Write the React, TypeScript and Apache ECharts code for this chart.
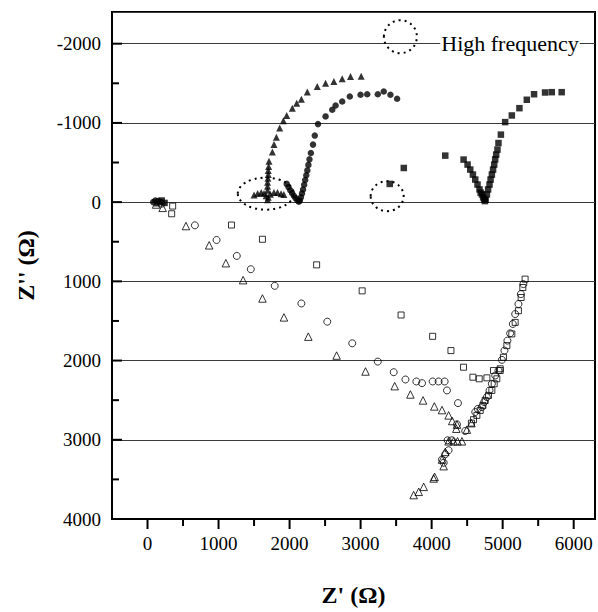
import React, { useEffect, useRef } from 'react';
import * as echarts from 'echarts';

// ---- axis ticks ----
const xMajorTicks = [0, 1000, 2000, 3000, 4000, 5000, 6000];
const xMinorTicks = [500, 1500, 2500, 3500, 4500, 5500];
const yMajorTicks = [-2000, -1000, 0, 1000, 2000, 3000, 4000];
const yMinorTicks = [-1500, -500, 500, 1500, 2500, 3500];

const X_MIN = -500;
const X_MAX = 6300;
const Y_MIN = -2400;
const Y_MAX = 4000;

// ---- filled symbols (upper half) ----
const filledTriangles = [
  [130, 10], [170, -10],
  [1500, -90], [1550, -110], [1600, -120], [1640, -110], [1670, -80], [1690, -30], [1700, -60],
  [1730, -100], [1780, -120], [1830, -120], [1880, -105], [1920, -95],
  [1690, -150], [1690, -200], [1690, -250], [1695, -300], [1700, -350], [1700, -400], [1705, -450], [1710, -516],
  [1758, -633], [1781, -726], [1814, -818], [1861, -935], [1913, -1028], [1959, -1094], [2039, -1186],
  [2100, -1249], [2166, -1299], [2250, -1390], [2390, -1459], [2507, -1500], [2624, -1522], [2741, -1556],
  [2858, -1585], [3008, -1590],
];

const filledCircles = [
  [80, 0], [110, -20], [150, -15], [190, 0],
  [1960, -230], [1985, -190], [2010, -150], [2035, -115], [2060, -80], [2085, -50], [2110, -25], [2130, -5],
  [2145, -20], [2160, -60], [2175, -110], [2190, -160], [2205, -220], [2220, -280], [2235, -340], [2250, -400],
  [2265, -470], [2280, -540], [2300, -620], [2330, -726], [2355, -840], [2400, -985], [2507, -1082],
  [2601, -1166], [2648, -1220], [2741, -1270], [2848, -1333], [2999, -1355], [3093, -1362], [3242, -1362],
  [3326, -1396], [3420, -1355], [3514, -1305],
];

const filledSquares = [
  [200, -20], [240, 10],
  [3410, -230], [3608, -431], [4192, -587], [4450, -537], [4506, -474], [4544, -411], [4581, -348],
  [4614, -285], [4646, -222], [4674, -160], [4690, -120], [4708, -97], [4725, -60], [4740, -34], [4750, -13],
  [4760, -30], [4778, -97], [4795, -160], [4815, -222], [4830, -285], [4848, -348], [4865, -410], [4881, -474],
  [4895, -540], [4909, -600], [4927, -663], [4941, -746], [4975, -852], [5035, -1010], [5129, -1094],
  [5236, -1186], [5340, -1292], [5442, -1362], [5597, -1384], [5691, -1388], [5831, -1388],
];

// ---- open symbols (lower half) ----
const openTriangles = [
  [120, 30], [213, 72], [541, 302], [868, 545], [1103, 771], [1346, 985], [1618, 1216], [1921, 1455],
  [2264, 1698], [2662, 1937], [3069, 2138], [3480, 2323], [3701, 2428], [3879, 2503], [4038, 2579],
  [4146, 2625], [4239, 2692], [4290, 2763], [4357, 2809], [4347, 2860], [4497, 2872], [4560, 2790],
  [4239, 3019], [4309, 3019], [4365, 3019], [4427, 3019], [4192, 3153], [4146, 3250], [4169, 3333],
  [4042, 3468], [4028, 3488], [3888, 3594], [3818, 3657], [3747, 3698],
];

const openCircles = [
  [200, 20], [667, 293], [972, 478], [1257, 679], [1454, 847], [1791, 1057], [2166, 1279], [2531, 1509],
  [2882, 1782], [3242, 2013], [3466, 2147], [3631, 2239], [3785, 2264], [3865, 2285], [4014, 2264],
  [4098, 2264], [4183, 2264], [4216, 2377], [4371, 2537], [4357, 2805], [4473, 2889], [4225, 3006],
  [4286, 3006], [4239, 3132], [4192, 3182], [4146, 3249], [4170, 3290],
  [4614, 2650], [4650, 2610], [4708, 2587], [4740, 2524], [4778, 2461], [4815, 2377], [4848, 2293],
  [4895, 2189], [4941, 2126],
  [4989, 1991], [5025, 1874], [5067, 1748], [5105, 1656], [5143, 1538], [5176, 1413], [5222, 1287],
  [5256, 1161], [5292, 1035],
];

const openSquares = [
  [354, 50], [340, 147], [1182, 289], [1618, 469], [2381, 792], [3022, 1120], [3570, 1425], [4014, 1694],
  [4272, 1874], [4449, 2084], [4581, 2210], [4670, 2230], [4778, 2218], [4871, 2126], [4965, 2104],
  [4560, 2790], [4590, 2746], [4637, 2692], [4684, 2629], [4722, 2566], [4754, 2503], [4801, 2440],
  [4848, 2377], [4881, 2293], [4918, 2230], [4965, 2126],
  [5011, 1958], [5059, 1811], [5129, 1664], [5176, 1518], [5222, 1371], [5260, 1204], [5284, 1078],
  [5316, 972],
];

// ---- annotations ----
const highFreqMarks = [[1665, -107], [3374, -75], [3560, -2088]];
const highFreqLabelPos = [[4122, -2000]];
const highFreqLabel = 'High frequency';

const markRadii = [[28, 16], [16.5, 15], [16.5, 16.5]];
const FONT = 'Liberation Serif';

export default function App() {
  const ref = useRef<HTMLDivElement>(null);
  useEffect(() => {
    if (!ref.current) return;
    const chart = echarts.init(ref.current, null, { renderer: 'svg' });
    const labelFmt = (lo: number, hi: number) => (v: number) =>
      v % 1000 === 0 && v >= lo && v <= hi ? String(v) : '';

    const tickSeries = (vals: number[], dir: 'x' | 'y', len: number) => ({
      type: 'custom',
      silent: true,
      clip: false,
      z: 5,
      data: vals.map((v) => (dir === 'x' ? [v, Y_MAX] : [X_MIN, v])),
      renderItem: (_p: any, api: any) => {
        const p = api.coord([api.value(0), api.value(1)]);
        const shape =
          dir === 'x'
            ? { x1: p[0], y1: p[1], x2: p[0], y2: p[1] + len }
            : { x1: p[0], y1: p[1], x2: p[0] + len, y2: p[1] };
        return { type: 'line', shape, style: { stroke: '#000', lineWidth: 2 } };
      },
    });

    const open = { color: 'rgba(255,255,255,0)', borderColor: '#000', borderWidth: 1 };

    chart.setOption({
      animation: false,
      backgroundColor: '#fff',
      textStyle: { fontFamily: FONT },
      grid: {
        left: 112, right: 3, top: 12, bottom: 93,
        show: true, borderColor: '#000', borderWidth: 2, backgroundColor: 'transparent',
      },
      xAxis: {
        type: 'value', min: X_MIN, max: X_MAX, minInterval: 1000, maxInterval: 1000,
        axisLine: { show: true, onZero: false, lineStyle: { color: '#000', width: 2 } },
        axisTick: { show: false },
        splitLine: { show: false },
        axisLabel: { color: '#000', fontFamily: FONT, fontSize: 19, margin: 15, formatter: labelFmt(0, 6000) },
        name: "Z' (Ω)", nameLocation: 'middle', nameGap: 64,
        nameTextStyle: { color: '#000', fontFamily: FONT, fontSize: 24, fontWeight: 'bold' },
      },
      yAxis: {
        type: 'value', inverse: true, min: Y_MIN, max: Y_MAX, minInterval: 1000, maxInterval: 1000,
        axisLine: { show: true, onZero: false, lineStyle: { color: '#000', width: 2 } },
        axisTick: { show: false },
        splitLine: { show: true, lineStyle: { color: '#3a3a3a', width: 1 } },
        axisLabel: { color: '#000', fontFamily: FONT, fontSize: 19, margin: 11, formatter: labelFmt(-2000, 4000) },
        name: "Z'' (Ω)", nameLocation: 'middle', nameGap: 74,
        nameTextStyle: { color: '#000', fontFamily: FONT, fontSize: 24, fontWeight: 'bold' },
      },
      series: [
        { type: 'scatter', data: openTriangles, symbol: 'triangle', symbolSize: 7.5, itemStyle: open },
        { type: 'scatter', data: openCircles, symbol: 'circle', symbolSize: 7, itemStyle: open },
        { type: 'scatter', data: openSquares, symbol: 'rect', symbolSize: 6, itemStyle: open },
        { type: 'scatter', data: filledTriangles, symbol: 'triangle', symbolSize: 7, itemStyle: { color: '#000' } },
        { type: 'scatter', data: filledCircles, symbol: 'circle', symbolSize: 6.5, itemStyle: { color: '#000' } },
        { type: 'scatter', data: filledSquares, symbol: 'rect', symbolSize: 6.5, itemStyle: { color: '#000' } },
        tickSeries(xMajorTicks, 'x', 10),
        tickSeries(xMinorTicks, 'x', 7),
        tickSeries(yMajorTicks, 'y', 10),
        tickSeries(yMinorTicks, 'y', 7),
        {
          type: 'custom', silent: true, clip: false, z: 6,
          data: highFreqMarks,
          renderItem: (params: any, api: any) => {
            const p = api.coord([api.value(0), api.value(1)]);
            const r = markRadii[params.dataIndex];
            return {
              type: 'ellipse',
              shape: { cx: p[0], cy: p[1], rx: r[0], ry: r[1] },
              style: { fill: 'none', stroke: '#000', lineWidth: 2, lineDash: [2, 4] },
            };
          },
        },
        {
          type: 'custom', silent: true, clip: false, z: 6,
          data: highFreqLabelPos,
          renderItem: (_p: any, api: any) => {
            const p = api.coord([api.value(0), api.value(1)]);
            return {
              type: 'text', x: p[0], y: p[1],
              style: {
                text: highFreqLabel, fontFamily: FONT, fontSize: 22, fill: '#000',
                align: 'left', verticalAlign: 'middle', backgroundColor: '#fff', padding: [0, 1],
              },
            };
          },
        },
      ],
    });
    return () => chart.dispose();
  }, []);
  return (
    <div
      ref={ref}
      style={{ position: 'absolute', left: 0, top: 0, width: 598, height: 612, background: '#fff' }}
    />
  );
}
